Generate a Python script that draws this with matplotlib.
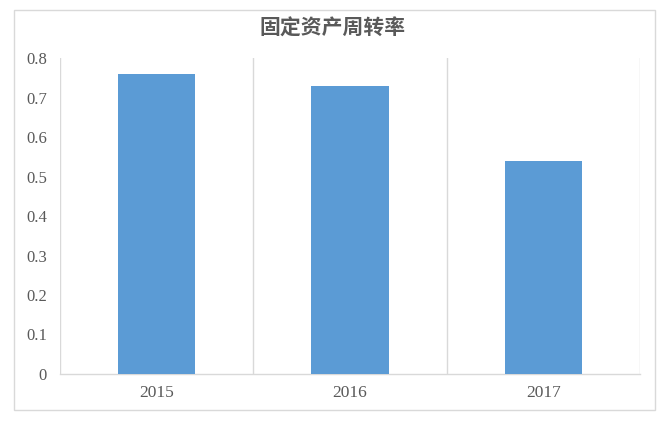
import matplotlib
matplotlib.use("Agg")
import matplotlib.pyplot as plt
from matplotlib.patches import Rectangle
from matplotlib.ticker import FixedLocator

plt.rcParams['font.family'] = ['Noto Sans CJK SC', 'DejaVu Sans']

categories = ["2015", "2016", "2017"]
values = [0.76, 0.73, 0.54]
yticks = [0, 0.1, 0.2, 0.3, 0.4, 0.5, 0.6, 0.7, 0.8]
ytick_labels = ["0", "0.1", "0.2", "0.3", "0.4", "0.5", "0.6", "0.7", "0.8"]
title = "固定资产周转率"

W, H = 666, 422
fig = plt.figure(figsize=(W / 100, H / 100), dpi=100)
fig.patch.set_facecolor("white")

# outer border
fig.patches.append(Rectangle((14 / W, 1 - 410 / H), (655 - 14) / W, (410 - 10) / H,
                             transform=fig.transFigure, fill=False,
                             edgecolor="#d9d9d9", linewidth=1.0))

ax = fig.add_axes([60 / W, 1 - 374 / H, 580 / W, 316 / H])
x = list(range(len(categories)))
ax.bar(x, values, width=0.4, color="#5B9BD5", zorder=3)
ax.set_xlim(-0.5, len(categories) - 0.5)
ax.set_ylim(0, 0.8)

ax.set_xticks(x)
ax.set_xticklabels(categories, fontfamily="Liberation Serif", fontsize=12.5, color="#595959")
ax.set_yticks(yticks)
ax.set_yticklabels(ytick_labels, fontfamily="Liberation Serif", fontsize=12, color="#595959")
ax.xaxis.set_minor_locator(FixedLocator([i - 0.5 for i in range(len(categories) + 1)]))
ax.grid(True, which="minor", axis="x", color="#d9d9d9", linewidth=1.0, zorder=0)
ax.tick_params(axis="both", which="both", length=0)
ax.tick_params(axis="x", pad=8)
ax.tick_params(axis="y", pad=9.4)

for s in ["top", "right", "left"]:
    ax.spines[s].set_visible(False)
ax.spines["bottom"].set_color("#d9d9d9")
ax.spines["bottom"].set_linewidth(1.0)

fig.text(333 / W, 1 - 28 / H, title, ha="center", va="center", fontsize=15,
         fontweight="bold", color="#595959")

fig.savefig("out.png", dpi=100)
